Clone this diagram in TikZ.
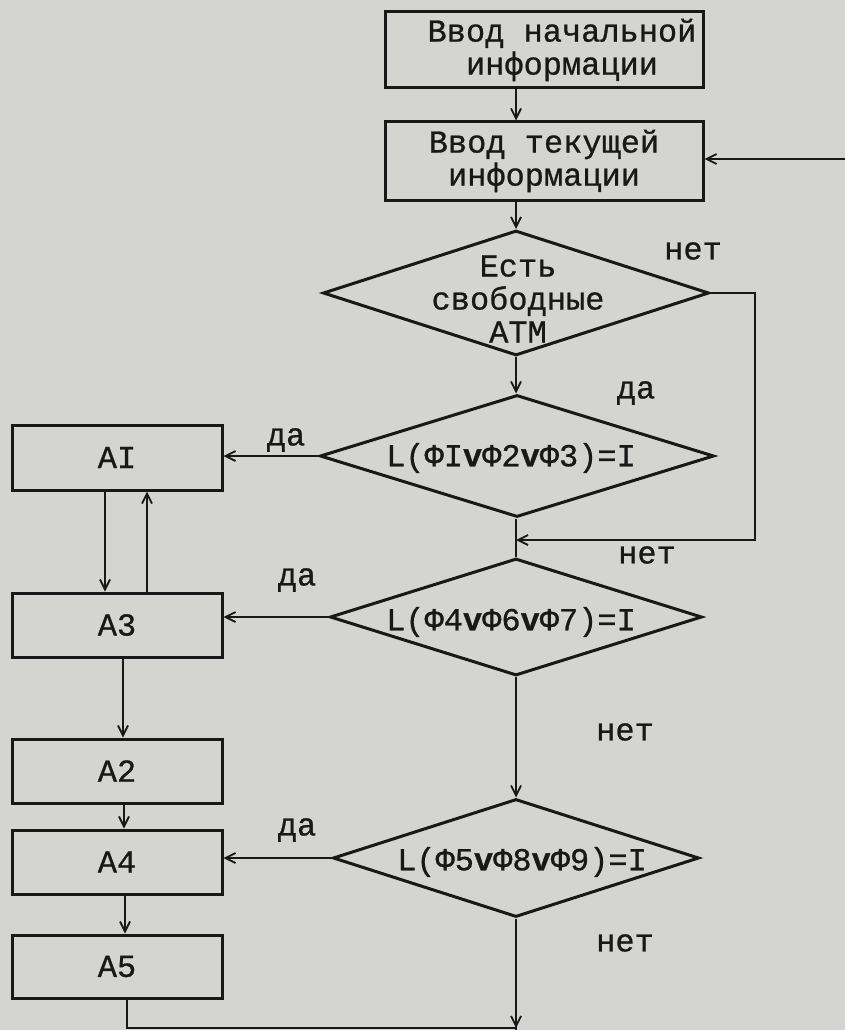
\documentclass[tikz,border=0pt]{standalone}
\usepackage{fontspec}
\newfontfamily\tw{Liberation Mono}[FakeBold=0.8]
\usetikzlibrary{shapes.geometric,arrows.meta}
\definecolor{bg}{RGB}{212,212,209}
\definecolor{ink}{RGB}{24,24,24}
\begin{document}
\begin{tikzpicture}[x=1pt,y=-1pt,
  every node/.style={font=\tw\fontsize{32}{33}\selectfont, text=ink},
  box/.style={draw=ink, line width=3pt, rectangle, inner sep=0pt, align=center},
  dia/.style={draw=ink, line width=3pt, diamond, inner sep=0pt},
  con/.style={draw=ink, line width=2.2pt},
  arr/.style={con, -{Straight Barb[length=10pt,width=10pt,line width=1.8pt]}},
  lbl/.style={inner sep=0pt}]
\fill[bg] (0,0) rectangle (845,1030);
\useasboundingbox (0,0) rectangle (845,1030);
% boxes
\node[box, minimum width=318pt, minimum height=76pt] (b1) at (544,50) {\hspace*{36pt}Ввод начальной\\\hspace*{36pt}информации};
\node[box, minimum width=318pt, minimum height=78pt] (b2) at (544,161) {Ввод текущей\\информации};
\node[box, minimum width=210pt, minimum height=65pt] (a1) at (117,457.5) {AI};
\node[box, minimum width=210pt, minimum height=64pt] (a3) at (117,625) {A3};
\node[box, minimum width=210pt, minimum height=64pt] (a2) at (117,771) {A2};
\node[box, minimum width=210pt, minimum height=64pt] (a4) at (117,862) {A4};
\node[box, minimum width=210pt, minimum height=63pt] (a5) at (117,966.5) {A5};
% diamonds
\node[dia, minimum width=386pt, minimum height=125pt] (d1) at (516,293) {};
\node[dia, minimum width=394pt, minimum height=122pt] (d2) at (517,456) {};
\node[dia, minimum width=372pt, minimum height=117pt] (d3) at (516,617) {};
\node[dia, minimum width=366pt, minimum height=118pt] (d4) at (516,858) {};
\node[lbl, align=center] (t1) at (518,299) {Есть\\свободные\\АТМ};
\node[lbl] (t2) at (511,458) {L(ФI{\bfseries v}Ф2{\bfseries v}Ф3)=I};
\node[lbl] (t3) at (511,622) {L(Ф4{\bfseries v}Ф6{\bfseries v}Ф7)=I};
\node[lbl] (t4) at (522,862) {L(Ф5{\bfseries v}Ф8{\bfseries v}Ф9)=I};
% connectors
\draw[arr] (b1.south -| d1) -- (b2.north -| d1);
\draw[arr] (b2.south -| d1) -- (d1.north);
\draw[arr] (d1.south) -- (d1.south |- d2.north);
\coordinate (lp) at (755,540);
\draw[arr] (d1.east) -- (d1.east -| lp) -- (lp) -- (lp -| d3.north);
\draw[con] (d2.south -| d3.north) -- (d3.north);
\draw[arr] (d2.west) -- (d2.west -| a1.east);
\draw[arr] ([xshift=-12pt]a1.south) -- ([xshift=-12pt]a3.north);
\draw[arr] ([xshift=30pt]a3.north) -- ([xshift=30pt]a1.south);
\draw[arr] (d3.west) -- (d3.west -| a3.east);
\draw[arr] ([xshift=6pt]a3.south) -- ([xshift=6pt]a2.north);
\draw[arr] (d3.south) -- (d4.north);
\draw[arr] ([xshift=7pt]a2.south) -- ([xshift=7pt]a4.north);
\draw[arr] ([xshift=8pt]a4.south) -- ([xshift=8pt]a5.north);
\draw[arr] (d4.west) -- (d4.west -| a4.east);
\coordinate (bt) at (516,1028);
\coordinate (bend) at (516,1032);
\draw[con] (d4.south) -- (bend);
\draw[arr] (d4.south) -- (bt);
\draw[con] ([xshift=10pt]a5.south) -- ([xshift=10pt]a5.south |- bt) -- (bt);
\coordinate (rin) at (847,159);
\draw[arr] (rin) -- (rin -| b2.east);
% labels
\node[lbl] (l1) at (693,251) {нет};
\node[lbl] (l2) at (636,393) {да};
\node[lbl] (l3) at (286,440) {да};
\node[lbl] (l4) at (647,555) {нет};
\node[lbl] (l5) at (297,580) {да};
\node[lbl] (l6) at (625,732) {нет};
\node[lbl] (l7) at (297,830) {да};
\node[lbl] (l8) at (625,943) {нет};
\end{tikzpicture}
\end{document}
